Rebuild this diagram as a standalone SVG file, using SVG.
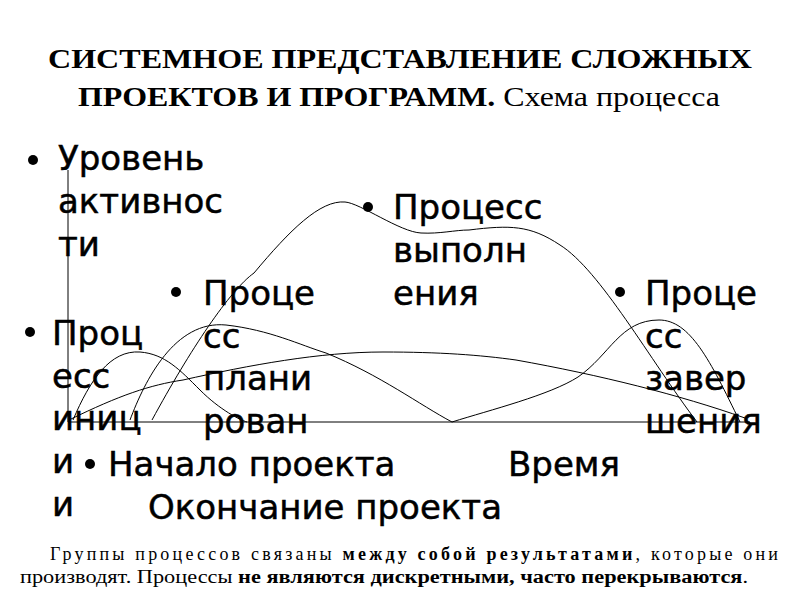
<svg xmlns="http://www.w3.org/2000/svg" width="800" height="600" viewBox="0 0 800 600">
<style>
.t{font-family:"Liberation Serif",serif;font-size:28px;font-weight:bold}
.b{font-family:"DejaVu Sans",sans-serif;font-size:34px;fill:#000;stroke:#000;stroke-width:0.5}
.p{font-family:"Liberation Serif",serif;font-size:18px}
.c{fill:none;stroke:#000;stroke-width:1}
</style>
<rect width="800" height="600" fill="#fff"/>
<text class="t" x="48" y="68" textLength="704" lengthAdjust="spacingAndGlyphs">СИСТЕМНОЕ ПРЕДСТАВЛЕНИЕ СЛОЖНЫХ</text>
<text class="t" x="78" y="106" textLength="642" lengthAdjust="spacingAndGlyphs">ПРОЕКТОВ И ПРОГРАММ.<tspan font-weight="normal"> Схема процесса</tspan></text>
<g id="connectors">
<path class="c" d="M68,170 V422 H750"/>
<path class="c" d="M73,420 C90,380 110,350 140,352 C165,354 180,370 200,390 C220,410 240,420 247,422"/>
<path class="c" d="M130,420 C145,380 175,320 226,325 C270,330 300,345 326,353 C380,375 420,405 452,422 C490,410 550,395 578,377 C610,355 620,320 659,320 C690,320 710,360 740,422"/>
<path class="c" d="M152,420 C190,350 230,290 254,273 C290,230 320,200 345,202 C360,203 400,232 421,233 C440,234 455,230 469,230 C510,225 530,225 560,245 C600,270 650,360 697,422"/>
<path class="c" d="M69,420 C120,395 150,385 183,380 C250,365 320,352 383,352 C440,352 480,355 516,360 C600,375 680,395 745,418"/>
</g>
<g id="n-level"><circle cx="33" cy="160" r="5"/><text class="b" x="58" y="170">Уровень</text><text class="b" x="58" y="213">активнос</text><text class="b" x="58" y="256">ти</text></g>
<g id="n-exec"><circle cx="368" cy="207" r="5"/><text class="b" x="393" y="219">Процесс</text><text class="b" x="393" y="262">выполн</text><text class="b" x="393" y="305">ения</text></g>
<g id="n-plan"><circle cx="176" cy="292" r="5"/><text class="b" x="203" y="305">Проце</text><text class="b" x="203" y="348">сс</text><text class="b" x="203" y="390">плани</text><text class="b" x="203" y="433">рован</text></g>
<g id="n-close"><circle cx="620" cy="292" r="5"/><text class="b" x="645" y="305">Проце</text><text class="b" x="645" y="348">сс</text><text class="b" x="645" y="390">завер</text><text class="b" x="645" y="433">шения</text></g>
<g id="n-init"><circle cx="30" cy="332" r="5"/><text class="b" x="52" y="345">Проц</text><text class="b" x="52" y="388">есс</text><text class="b" x="52" y="430">иниц</text><text class="b" x="52" y="473">и</text><text class="b" x="52" y="516">и</text></g>
<g id="n-axis"><circle cx="90" cy="464" r="5"/><text class="b" x="108" y="476">Начало проекта</text><text class="b" x="508" y="476">Время</text><text class="b" x="148" y="519">Окончание проекта</text></g>
<text class="p" x="50" y="560" textLength="728" lengthAdjust="spacing">Группы процессов связаны <tspan font-weight="bold">между собой результатами</tspan>, которые они</text>
<text class="p" x="20" y="583" textLength="728" lengthAdjust="spacingAndGlyphs">производят. Процессы <tspan font-weight="bold">не являются дискретными, часто перекрываются</tspan>.</text>
</svg>
